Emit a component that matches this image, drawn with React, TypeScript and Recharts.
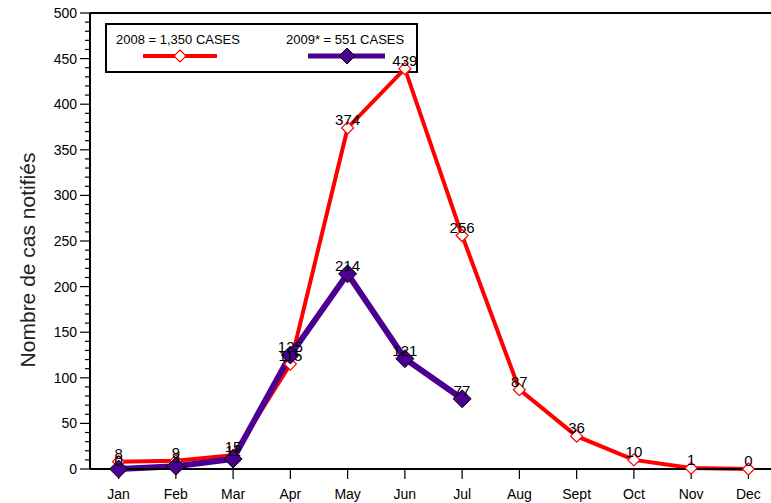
import React from 'react';
import { LineChart, Line, XAxis, YAxis, ReferenceLine, LabelList } from 'recharts';

const months = ['Jan', 'Feb', 'Mar', 'Apr', 'May', 'Jun', 'Jul', 'Aug', 'Sept', 'Oct', 'Nov', 'Dec'];
const cases2008 = [8, 9, 15, 115, 374, 439, 256, 87, 36, 10, 1, 0];
const cases2009 = [0, 3, 11, 125, 214, 121, 77, null, null, null, null, null];
const majorTicks = [0, 50, 100, 150, 200, 250, 300, 350, 400, 450, 500];
const yTicks = Array.from({ length: 51 }, (_, i) => i * 10);

const RED = '#ff0000';
const PURPLE = '#4b0091';
const FONT = '"Liberation Sans", Arial, sans-serif';

const data = months.map((m, i) => ({ month: m, y2008: cases2008[i], y2009: cases2009[i] }));

const OpenDiamond = (props: any) => {
  const { cx, cy } = props;
  if (cx == null || cy == null) return null;
  const r = 6;
  return (
    <path
      d={`M${cx},${cy - r}L${cx + r},${cy}L${cx},${cy + r}L${cx - r},${cy}Z`}
      fill="#fff"
      stroke={RED}
      strokeWidth={1.2}
    />
  );
};

const FilledDiamond = (props: any) => {
  const { cx, cy, payload } = props;
  if (cx == null || cy == null || payload?.y2009 == null) return null;
  const r = 9;
  return (
    <path
      d={`M${cx},${cy - r}L${cx + r},${cy}L${cx},${cy + r}L${cx - r},${cy}Z`}
      fill={PURPLE}
      stroke="#000"
      strokeWidth={1}
    />
  );
};

const YTick = (props: any) => {
  const { x, y, payload } = props;
  const major = majorTicks.includes(payload.value);
  return (
    <g>
      <line x1={x - (major ? 10 : 5)} x2={x} y1={y} y2={y} stroke="#000" strokeWidth={1.2} />
      {major && (
        <text x={x - 13} y={y} dy={5} textAnchor="end" fontSize={14} fontFamily={FONT} fill="#000">
          {payload.value}
        </text>
      )}
    </g>
  );
};

// legend box sits under the chart svg so the Jun point and its label overlap it
const LegendBox = () => (
  <div
    style={{
      position: 'absolute',
      left: 105,
      top: 23,
      width: 309,
      height: 46,
      border: '2px solid #000',
      background: '#fff',
      fontFamily: FONT,
      fontSize: 13,
      color: '#000',
    }}
  >
    <div style={{ position: 'absolute', left: 9, top: 7 }}>2008 = 1,350 CASES</div>
    <div style={{ position: 'absolute', left: 179, top: 7 }}>2009* = 551 CASES</div>
    <svg width={309} height={46} style={{ position: 'absolute', left: 0, top: 0 }}>
      <line x1={36} x2={110} y1={31} y2={31} stroke={RED} strokeWidth={4} />
      <OpenDiamond cx={73} cy={31} />
      <line x1={201} x2={278} y1={31} y2={31} stroke={PURPLE} strokeWidth={5} />
      <path d="M240,23L248,31L240,39L232,31Z" fill={PURPLE} stroke="#000" strokeWidth={1} />
    </svg>
  </div>
);

export default function App() {
  return (
    <div style={{ position: 'absolute', left: 0, top: 0, width: 771, height: 503, overflow: 'hidden', background: '#fff' }}>
      <LegendBox />
      <div style={{ position: 'absolute', left: 0, top: 0 }}>
        <LineChart width={777} height={503} data={data} margin={{ top: 13, right: 0, left: 0, bottom: 0 }}>
          <XAxis
            dataKey="month"
            padding={{ left: 28.6, right: 28.6 }}
            height={34}
            tickSize={10}
            tickMargin={10}
            axisLine={{ stroke: '#000', strokeWidth: 2 }}
            tickLine={{ stroke: '#000', strokeWidth: 1.2 }}
            tick={{ fill: '#000', fontSize: 14, fontFamily: FONT }}
            interval={0}
          />
          <YAxis
            domain={[0, 500]}
            ticks={yTicks}
            interval={0}
            width={90}
            tickSize={0}
            tickMargin={0}
            tickLine={false}
            axisLine={{ stroke: '#000', strokeWidth: 2 }}
            tick={<YTick />}
          />
          <ReferenceLine y={500} stroke="#000" strokeWidth={2} />
          <Line
            type="linear"
            dataKey="y2008"
            stroke={RED}
            strokeWidth={4}
            dot={<OpenDiamond />}
            activeDot={false}
            isAnimationActive={false}
          >
            <LabelList dataKey="y2008" position="top" offset={3} fill="#000" fontSize={15} fontFamily={FONT} />
          </Line>
          <Line
            type="linear"
            dataKey="y2009"
            stroke={PURPLE}
            strokeWidth={6}
            dot={<FilledDiamond />}
            activeDot={false}
            connectNulls={false}
            isAnimationActive={false}
          >
            <LabelList dataKey="y2009" position="top" offset={3} fill="#000" fontSize={15} fontFamily={FONT} />
          </Line>
        </LineChart>
      </div>
      <div
        style={{
          position: 'absolute',
          left: 28,
          top: 260,
          transform: 'translate(-50%, -50%) rotate(-90deg)',
          whiteSpace: 'nowrap',
          fontFamily: FONT,
          fontSize: 21,
          color: '#222',
        }}
      >
        Nombre de cas notifiés
      </div>
    </div>
  );
}
